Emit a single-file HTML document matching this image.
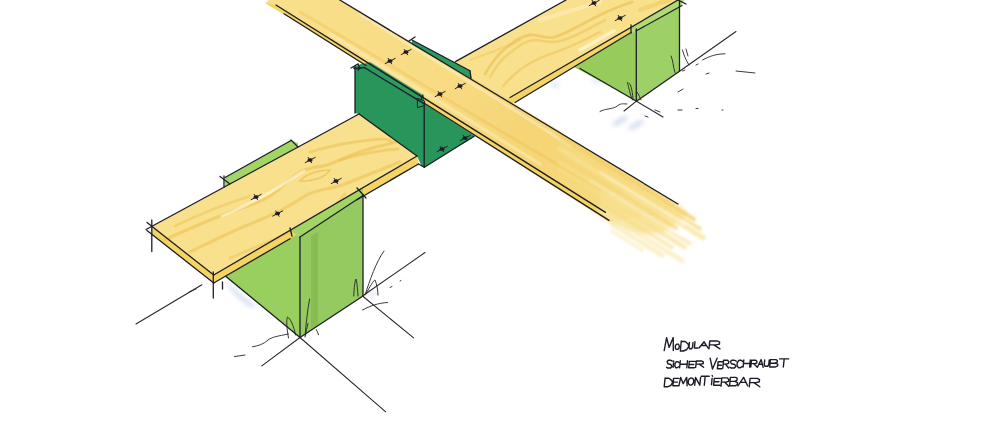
<!DOCTYPE html>
<html><head><meta charset="utf-8">
<style>
html,body{margin:0;padding:0;background:#fff;}
body{width:1000px;height:433px;overflow:hidden;font-family:"Liberation Sans",sans-serif;}
svg{display:block;}
</style></head>
<body>
<svg width="1000" height="433" viewBox="0 0 1000 433">
<defs>
  <linearGradient id="fadeG" gradientUnits="userSpaceOnUse" x1="562.3" y1="345.8" x2="609.2" y2="374.7">
    <stop offset="0" stop-color="#fff" stop-opacity="1"/>
    <stop offset="0.5" stop-color="#fff" stop-opacity="0.75"/>
    <stop offset="1" stop-color="#fff" stop-opacity="0"/>
  </linearGradient>
  <mask id="fadeM" maskUnits="userSpaceOnUse" x="0" y="0" width="1000" height="433">
    <rect width="1000" height="433" fill="url(#fadeG)"/>
  </mask>
  <linearGradient id="plankAG" gradientUnits="userSpaceOnUse" x1="213" y1="131" x2="596.4" y2="366.8">
    <stop offset="0" stop-color="#f9df8a"/>
    <stop offset="0.35" stop-color="#f8dc84"/>
    <stop offset="0.6" stop-color="#f5d575"/>
    <stop offset="0.8" stop-color="#f6d87c"/>
    <stop offset="0.92" stop-color="#f8e094"/>
    <stop offset="1" stop-color="#f9e6a8"/>
  </linearGradient>
  <filter id="soft2" x="-10%" y="-10%" width="120%" height="120%"><feGaussianBlur stdDeviation="0.7"/></filter>
  <filter id="soft" x="-10%" y="-10%" width="120%" height="120%"><feGaussianBlur stdDeviation="1.2"/></filter>
  <filter id="blur2" x="-20%" y="-20%" width="140%" height="140%"><feGaussianBlur stdDeviation="2"/></filter>
  
</defs>
<rect width="1000" height="433" fill="#ffffff"/>

<!-- ===== shadows ===== -->
<g fill="#d6def2" opacity="0.9" filter="url(#blur2)">
  <ellipse cx="620" cy="121" rx="9" ry="3.2" transform="rotate(-30 620 121)"/>
  <ellipse cx="636" cy="125" rx="9" ry="3.2" transform="rotate(-30 636 125)"/>
  <ellipse cx="598" cy="80" rx="8" ry="4" opacity="0.5"/>
  <ellipse cx="555" cy="85" rx="5" ry="3" opacity="0.7"/>
  <ellipse cx="372" cy="294" rx="8" ry="2.5" opacity="0.6"/>
  <path d="M226 281 C234 288 244 296 256 306 C254 309 250 308 244 303 C236 296 229 290 226 281 Z"/>
</g>
<!-- ===== right light-green block ===== -->
<polygon points="574,67 630,26 637,28 637,101.2" fill="#97cc5c"/>
<polygon points="636,29 679.5,4.5 679.5,71.3 636.5,101.2" fill="#9dd066"/>
<polygon points="629,28.5 678,0 684,0 681,6 637,31.5 632,33" fill="#b0da74"/>

<!-- ===== plank B right segment ===== -->
<polygon points="430,82 448,66 566,0 678,0 631,27.3 510,97.5 500,110" fill="#f9e08c"/>
<polygon points="500,103.3 631,27.3 631,32.5 505,108.3" fill="#f4d462"/>
<!-- grain plank B right -->
<g filter="url(#soft2)" fill="none" stroke-linecap="round">
  <path d="M485 74 C492 62 498 54 506 48 C514 42 520 36 530 35 C540 34 545 40 555 37 C570 32 585 22 600 15 C610 10 620 6 632 2" stroke="#e9bb4c" stroke-width="2.8" opacity="0.55"/>
  <path d="M490 77 C496 66 502 58 510 53 C518 47 524 41 534 40 C544 40 548 44 560 41 C575 37 590 28 605 20" stroke="#e9bb4c" stroke-width="2.5" opacity="0.45"/>
  <path d="M503 86 C510 78 516 72 524 67 C534 60 544 56 556 52 C570 47 585 40 600 32" stroke="#e9bb4c" stroke-width="2.5" opacity="0.45"/>
  <path d="M470 60 C490 52 505 48 520 40" stroke="#e9bb4c" stroke-width="2.1" opacity="0.35"/>
  <path d="M580 50 C592 44 602 37 614 31" stroke="#fff8e0" stroke-width="3.5" opacity="0.7"/>
  <path d="M540 20 C560 14 580 8 600 2" stroke="#fff3cc" stroke-width="4.2" opacity="0.45"/>
  <path d="M640 10 C650 6 660 3 670 0" stroke="#ebbe50" stroke-width="4.2" opacity="0.4"/>
</g>

<!-- ===== small back green strip ===== -->
<polygon points="225,177.5 291,140.5 298,143 298,147 225,188" fill="#a2d466"/>

<!-- ===== lower light-green block ===== -->
<polygon points="225.5,277 291,231 300,237 300,337.5" fill="#99cf5f"/>
<polygon points="300,237 363,195.5 363,296 300,337.5" fill="#94ca5f"/>
<polygon points="311,236 318,232 318,325.7 311,330.3" fill="#79ad44" opacity="0.45"/>

<!-- ===== plank B left segment ===== -->
<polygon points="152,226.5 359,114 417,156 213.75,275" fill="#f9e08c"/>
<polygon points="213.75,275 417,156 418.5,164 213.75,283" fill="#f4d462"/>
<polygon points="152,226.5 213.75,275 213.75,283 152,234.5" fill="#f4d462"/>
<!-- grain plank B left -->
<g filter="url(#soft2)" fill="none" stroke-linecap="round">
  <path d="M165 240 C185 230 205 222 225 214 C245 206 258 204 270 196 C282 188 290 178 300 172 C310 166 320 168 330 164 C345 158 360 150 380 146 C392 144 400 140 410 138" stroke="#ebbe50" stroke-width="3.1" opacity="0.55"/>
  <path d="M190 252 C210 242 235 230 255 222 C275 214 290 206 305 196 C318 188 330 190 345 184 C360 178 380 170 400 162" stroke="#ebbe50" stroke-width="3.1" opacity="0.5"/>
  <path d="M300 181 C306 174 318 170 330 170 C326 176 316 181 300 181 Z" stroke="#e6b748" stroke-width="1.7" opacity="0.55"/>
  <path d="M222 216 C235 211 246 205 256 200 C268 194 278 188 290 180 C296 176 300 173 304 171" stroke="#fffbea" stroke-width="2.8" opacity="0.6"/>
  <path d="M310 152 C330 146 350 142 370 140 C380 139 388 138 392 142" stroke="#ebbe50" stroke-width="2.8" opacity="0.5"/>
  <path d="M340 160 C360 154 380 150 398 149" stroke="#ebbe50" stroke-width="2.8" opacity="0.5"/>
  <path d="M175 226 C200 214 225 204 250 196" stroke="#ebbe50" stroke-width="2.8" opacity="0.45"/>
  <path d="M230 258 C260 246 290 232 315 220 C328 212 336 206 345 194" stroke="#ebbe50" stroke-width="2.8" opacity="0.45"/>
</g>
<!-- lower block top strip -->
<polygon points="290,230.4 363,187.7 363,195.5 300,237" fill="#a3d565"/>

<!-- ===== dark green block ===== -->
<polygon points="353,67 360,64.5 365,61.7 424,98.7 424,167 422,167 417,156 359,114 355,113 355,70" fill="#28955a"/>
<polygon points="424,98 476,130 476,136 424,167.3" fill="#28955a"/>

<!-- ===== plank A ===== -->
<polygon points="268.9,0 339.8,0 678,204 660,214 609,222 300,24 265,3" fill="url(#plankAG)"/>
<polygon points="276,5 300,21 605.5,212.4 609,220.4 300,24 265,3" fill="#f4d462"/>
<g fill="none" stroke-linecap="round">
  <path d="M300 12 C380 58 460 108 540 154 C570 172 600 190 640 210" stroke="#ebbe50" stroke-width="3" opacity="0.35"/>
  <path d="M360 14 C430 58 500 100 570 146" stroke="#fff3cc" stroke-width="3" opacity="0.45"/>
  <path d="M330 34 C400 78 470 120 540 164" stroke="#fff3cc" stroke-width="3.5" opacity="0.4"/>
  <path d="M400 36 C450 66 500 96 560 132" stroke="#ebbe50" stroke-width="2.5" opacity="0.3"/>
</g>
<polygon points="600,190 678,204 688,214 664,232 640,234 609,222 600,215" fill="#f8e296" filter="url(#blur2)" opacity="0.85"/>
<g filter="url(#soft)" stroke-linecap="round" fill="none">
  <line x1="560" y1="136.0" x2="694" y2="219.1" stroke="#f3d068" stroke-width="4" opacity="0.8"/>
  <line x1="560" y1="142.0" x2="700" y2="228.8" stroke="#f6da80" stroke-width="4" opacity="0.7"/>
  <line x1="560" y1="149.0" x2="703" y2="237.7" stroke="#f8e291" stroke-width="5" opacity="0.7"/>
  <line x1="560" y1="156.0" x2="676" y2="227.9" stroke="#f5d677" stroke-width="4" opacity="0.7"/>
  <line x1="560" y1="163.0" x2="690" y2="243.6" stroke="#f8e293" stroke-width="4" opacity="0.6"/>
  <line x1="560" y1="170.0" x2="684" y2="246.9" stroke="#f7dd88" stroke-width="5" opacity="0.6"/>
  <line x1="560" y1="178.0" x2="672" y2="247.4" stroke="#f6da80" stroke-width="4" opacity="0.55"/>
  <line x1="600" y1="209.8" x2="682" y2="260.6" stroke="#f9e7a5" stroke-width="5" opacity="0.55"/>
  <line x1="612" y1="224.2" x2="662" y2="255.2" stroke="#f8e39a" stroke-width="5" opacity="0.5"/>
  <line x1="612" y1="231.2" x2="642" y2="249.8" stroke="#f9e6a4" stroke-width="4" opacity="0.45"/>
  <line x1="600" y1="172" x2="686" y2="225" stroke="#ffffff" stroke-width="1.6" opacity="0.55"/>
  <line x1="590" y1="180" x2="680" y2="236" stroke="#ffffff" stroke-width="1.4" opacity="0.5"/>
</g>
<!-- green strip replacing plank thickness over dark block -->
<polygon points="361,64.5 370.4,62.3 424,95.8 424,103.6 364.2,67.5 356,68" fill="#2c9b5f"/>
<polygon points="417.4,98.3 424.6,101 424.6,105.5 417.4,107.6" fill="#2c9b5f" stroke="#1d1d28" stroke-width="1"/>
<path d="M419 95 L426 99.5 M423 94.5 L421 100" stroke="#1d1d28" stroke-width="1" fill="none"/>
<!-- dark block back strip -->
<polygon points="412,40 470,70.5 471.5,78.8 412,44.5" fill="#2c9b5f"/>

<!-- ===== outlines ===== -->
<g stroke="#1d1d28" stroke-width="1.3" fill="none" stroke-linecap="round">
  <!-- plank A -->
  <line x1="339.8" y1="0" x2="678" y2="204"/>
  <line x1="276" y1="5" x2="605.5" y2="212.4"/>
  <line x1="284" y1="13.8" x2="366" y2="65.5"/>
  <line x1="424" y1="103" x2="609" y2="220.4"/>
  <!-- plank B right -->
  <line x1="455.4" y1="61.6" x2="566" y2="0"/>
  <line x1="510" y1="97.5" x2="678" y2="0"/>
  <line x1="515" y1="102.5" x2="631" y2="32.5"/>
  <!-- right block -->
  <line x1="636.3" y1="29" x2="636.3" y2="101"/>
  <line x1="679.5" y1="1" x2="679.5" y2="71.3"/>
  <line x1="636" y1="31" x2="682" y2="5.5"/>
  <line x1="580" y1="68.5" x2="636.5" y2="101.2"/>
  <line x1="636.5" y1="101.2" x2="679.5" y2="71.3"/>
  <line x1="631" y1="25" x2="631" y2="33"/>
  <line x1="676" y1="-1" x2="686" y2="4"/>
  <!-- plank B left -->
  <line x1="146" y1="229.5" x2="359" y2="114"/>
  <line x1="359" y1="114" x2="417" y2="156"/>
  <line x1="213.75" y1="275" x2="417" y2="156"/>
  <line x1="213.75" y1="283" x2="290" y2="238.7"/>
  <line x1="357" y1="199.7" x2="418.5" y2="164"/>
  <line x1="147" y1="222.5" x2="213.75" y2="275"/>
  <line x1="147" y1="230.5" x2="213.75" y2="283"/>
  <line x1="151.8" y1="220" x2="151.8" y2="251.5"/>
  <line x1="213.3" y1="272" x2="213.3" y2="298"/>
  <line x1="222.5" y1="282" x2="222.5" y2="289"/>
  <line x1="290" y1="228" x2="292" y2="236"/>
  <line x1="357" y1="188" x2="366" y2="198"/>
  <!-- small back strip -->
  <line x1="225" y1="177.5" x2="291" y2="140.5"/>
  <line x1="224" y1="176" x2="224" y2="187"/>
  <line x1="220" y1="176.5" x2="229.6" y2="183.8"/>
  <line x1="291" y1="140" x2="298" y2="147"/>
  <!-- lower block -->
  <line x1="226" y1="276.5" x2="300" y2="337.5"/>
  <line x1="300" y1="237" x2="300" y2="337.5"/>
  <line x1="363" y1="195" x2="363" y2="296"/>
  <line x1="300" y1="337.5" x2="363" y2="296"/>
  <line x1="300" y1="237" x2="363" y2="195.5"/>
  <!-- dark block -->
  <line x1="355" y1="67" x2="355" y2="113"/>
  <line x1="424.2" y1="104" x2="424.2" y2="167.3"/>
  <line x1="418.5" y1="164" x2="424.4" y2="167.3"/>
  <line x1="424.4" y1="167.3" x2="473.6" y2="136.5"/>
  <path d="M354 68.5 L364.2,67.5 L424,103.6"/>
  <line x1="412" y1="40" x2="470" y2="70.8"/><line x1="470" y1="70.8" x2="471" y2="78"/>
  <line x1="409" y1="41" x2="415" y2="37"/>
  <path d="M351 68 L358 64 L360 68 L358 70"/>
</g>
<g stroke="#26262c" stroke-width="1.05" fill="none" stroke-linecap="round">
  <!-- ground lines -->
  <line x1="300" y1="337.5" x2="385.7" y2="411.8"/>
  <line x1="300" y1="337.5" x2="261.8" y2="365.9"/>
  <line x1="136" y1="324" x2="201.9" y2="284.8"/>
  <line x1="362.5" y1="296" x2="413.6" y2="337.9"/>
  <line x1="362.5" y1="296" x2="425" y2="252.5"/>
  <line x1="636.5" y1="101.2" x2="663" y2="117"/>
  <line x1="636.5" y1="101.2" x2="624" y2="111"/>
  <line x1="679.5" y1="71.3" x2="736" y2="31.5"/>
</g>

<!-- ===== screws ===== -->
<g transform="translate(310 160)"><path d="M-2.6 0.8 C-2.8 -1 -1 -2 0.6 -1.8 C2.2 -1.6 2.8 -0.4 2.4 0.8 C1.8 2 -1.6 2.2 -2.6 0.8 Z" fill="#1d1d28"/>
    <path d="M-4.8 2.6 L5.2 -2.6 M-1.8 -2.6 L1.6 2.8" stroke="#1d1d28" stroke-width="1" fill="none" stroke-linecap="round"/></g>
<g transform="translate(336 181)"><path d="M-2.6 0.8 C-2.8 -1 -1 -2 0.6 -1.8 C2.2 -1.6 2.8 -0.4 2.4 0.8 C1.8 2 -1.6 2.2 -2.6 0.8 Z" fill="#1d1d28"/>
    <path d="M-4.8 2.6 L5.2 -2.6 M-1.8 -2.6 L1.6 2.8" stroke="#1d1d28" stroke-width="1" fill="none" stroke-linecap="round"/></g>
<g transform="translate(256 197)"><path d="M-2.6 0.8 C-2.8 -1 -1 -2 0.6 -1.8 C2.2 -1.6 2.8 -0.4 2.4 0.8 C1.8 2 -1.6 2.2 -2.6 0.8 Z" fill="#1d1d28"/>
    <path d="M-4.8 2.6 L5.2 -2.6 M-1.8 -2.6 L1.6 2.8" stroke="#1d1d28" stroke-width="1" fill="none" stroke-linecap="round"/></g>
<g transform="translate(277.5 213.5)"><path d="M-2.6 0.8 C-2.8 -1 -1 -2 0.6 -1.8 C2.2 -1.6 2.8 -0.4 2.4 0.8 C1.8 2 -1.6 2.2 -2.6 0.8 Z" fill="#1d1d28"/>
    <path d="M-4.8 2.6 L5.2 -2.6 M-1.8 -2.6 L1.6 2.8" stroke="#1d1d28" stroke-width="1" fill="none" stroke-linecap="round"/></g>
<g transform="translate(406 52)"><path d="M-2.6 0.8 C-2.8 -1 -1 -2 0.6 -1.8 C2.2 -1.6 2.8 -0.4 2.4 0.8 C1.8 2 -1.6 2.2 -2.6 0.8 Z" fill="#1d1d28"/>
    <path d="M-4.8 2.6 L5.2 -2.6 M-1.8 -2.6 L1.6 2.8" stroke="#1d1d28" stroke-width="1" fill="none" stroke-linecap="round"/></g>
<g transform="translate(390 61)"><path d="M-2.6 0.8 C-2.8 -1 -1 -2 0.6 -1.8 C2.2 -1.6 2.8 -0.4 2.4 0.8 C1.8 2 -1.6 2.2 -2.6 0.8 Z" fill="#1d1d28"/>
    <path d="M-4.8 2.6 L5.2 -2.6 M-1.8 -2.6 L1.6 2.8" stroke="#1d1d28" stroke-width="1" fill="none" stroke-linecap="round"/></g>
<g transform="translate(440 94)"><path d="M-2.6 0.8 C-2.8 -1 -1 -2 0.6 -1.8 C2.2 -1.6 2.8 -0.4 2.4 0.8 C1.8 2 -1.6 2.2 -2.6 0.8 Z" fill="#1d1d28"/>
    <path d="M-4.8 2.6 L5.2 -2.6 M-1.8 -2.6 L1.6 2.8" stroke="#1d1d28" stroke-width="1" fill="none" stroke-linecap="round"/></g>
<g transform="translate(460 86)"><path d="M-2.6 0.8 C-2.8 -1 -1 -2 0.6 -1.8 C2.2 -1.6 2.8 -0.4 2.4 0.8 C1.8 2 -1.6 2.2 -2.6 0.8 Z" fill="#1d1d28"/>
    <path d="M-4.8 2.6 L5.2 -2.6 M-1.8 -2.6 L1.6 2.8" stroke="#1d1d28" stroke-width="1" fill="none" stroke-linecap="round"/></g>
<g transform="translate(594 3)"><path d="M-2.6 0.8 C-2.8 -1 -1 -2 0.6 -1.8 C2.2 -1.6 2.8 -0.4 2.4 0.8 C1.8 2 -1.6 2.2 -2.6 0.8 Z" fill="#1d1d28"/>
    <path d="M-4.8 2.6 L5.2 -2.6 M-1.8 -2.6 L1.6 2.8" stroke="#1d1d28" stroke-width="1" fill="none" stroke-linecap="round"/></g>
<g transform="translate(620 18)"><path d="M-2.6 0.8 C-2.8 -1 -1 -2 0.6 -1.8 C2.2 -1.6 2.8 -0.4 2.4 0.8 C1.8 2 -1.6 2.2 -2.6 0.8 Z" fill="#1d1d28"/>
    <path d="M-4.8 2.6 L5.2 -2.6 M-1.8 -2.6 L1.6 2.8" stroke="#1d1d28" stroke-width="1" fill="none" stroke-linecap="round"/></g>
<g transform="translate(442 149)"><path d="M-2.6 0.8 C-2.8 -1 -1 -2 0.6 -1.8 C2.2 -1.6 2.8 -0.4 2.4 0.8 C1.8 2 -1.6 2.2 -2.6 0.8 Z" fill="#1d1d28"/>
    <path d="M-4.8 2.6 L5.2 -2.6 M-1.8 -2.6 L1.6 2.8" stroke="#1d1d28" stroke-width="1" fill="none" stroke-linecap="round"/></g>
<g transform="translate(465 138)"><path d="M-2.6 0.8 C-2.8 -1 -1 -2 0.6 -1.8 C2.2 -1.6 2.8 -0.4 2.4 0.8 C1.8 2 -1.6 2.2 -2.6 0.8 Z" fill="#1d1d28"/>
    <path d="M-4.8 2.6 L5.2 -2.6 M-1.8 -2.6 L1.6 2.8" stroke="#1d1d28" stroke-width="1" fill="none" stroke-linecap="round"/></g>

<!-- ===== scribbles / grass ===== -->
<g stroke="#25252c" stroke-width="1" fill="none" stroke-linecap="round" opacity="0.9">
  <path d="M353.8 296 C354 288 355 280 356 279 C357 282 357.5 290 358 296"/>
  <path d="M365 295 C370 280 376 262 384 251"/>
  <path d="M366 294 C370 286 374 280 375 280 C377 284 378 292 378 295"/>
  <path d="M288.5 338 C287 330 286 320 287.5 317 C290 318 294 326 295.5 335"/>
  <path d="M305 337 C306 324 307.5 310 309.6 299 M305.5 336 C306 332 307 327 308 323.5"/>
  <path d="M316.3 329.5 C317 331 318 333 318.6 334.8"/>
  <path d="M252.5 346.8 C258 346 264 344 268 340 C272 337 278 336 288.5 334"/>
  <path d="M362.5 310 C370 306 378 303 387.5 302.5"/>
  <path d="M390 287.5 L392 286.5 M400 281 L401 280.5"/>
  <path d="M234.5 356.6 L245 355"/>
  <path d="M189 292 L196 289"/>
  <path d="M671 56 C673 60 673 66 675 72.5"/>
  <path d="M627.5 82.5 C629 88 630 95 632.5 100 M629 83 C631 84 632 90 633 98"/>
  <path d="M637.5 92.5 C639 95 640 98 641 100"/>
  <path d="M682.5 50 C684 56 686 60 689 65 M686 49 L688 56"/>
  <path d="M702.5 60 C710 56 716 54 725 53.75"/>
  <path d="M682.5 71 L685 70 M696 65 L698 64 M706 74 L709 73 M736 71 L755 73"/>
  <path d="M600 111.5 C606 108 612 110 618 105.5 C621 103 624 104 627 104"/>
  <path d="M678 92 L683 89 M678 110 L682 110 M696 108.5 L698 108.5 M722 110 L723 110"/>
  <path d="M655 110 L660 112 M645 116 L648 117"/>
</g>

<!-- ===== text ===== -->
<path d="M664.2 350.6 L666.6 337.6 L669.1 347.4 L673.2 337.6 L673.3 350.6 M679.1 347.6 L678.4 348.8 L677.5 349.4 L676.4 349.4 L675.6 348.6 L675.3 347.4 L675.4 345.9 L676.1 344.7 L677.1 344.1 L678.1 344.1 L678.9 344.9 L679.3 346.1 L679.1 347.6 L678.4 348.8 M681.3 341.0 L680.3 351.0 M681.3 341.2 L685.2 341.5 L688.1 344.0 L688.7 346.5 L686.8 349.5 L683.5 351.0 L680.3 351.0 M689.4 342.5 L689.0 346.9 L689.5 348.8 L691.7 348.8 L692.6 346.9 L693.0 342.5 M695.0 341.8 L694.4 348.0 L697.8 348.0 M699.0 348.0 L704.1 341.8 L708.0 348.0 M701.2 345.5 L706.4 345.5 M709.0 348.8 L709.8 341.0 L717.5 341.0 L719.6 342.2 L719.4 344.1 L716.0 344.9 L709.4 344.9 M713.8 344.9 L720.0 348.8 M672.3 361.1 L670.8 360.3 L668.3 360.3 L667.1 361.8 L667.9 363.8 L670.9 364.5 L671.8 366.5 L670.6 368.0 L667.5 368.0 L666.6 367.2 M673.5 362.9 L673.1 367.3 M673.6 361.0 L673.8 361.5 M678.9 362.6 L677.9 361.7 L676.3 361.7 L675.0 363.5 L674.8 365.9 L675.7 367.7 L677.3 367.7 L678.5 366.8 M680.3 360.7 L679.6 367.7 M687.5 360.7 L686.8 367.7 M680.0 364.2 L687.1 364.2 M695.1 361.4 L689.3 361.4 L688.7 367.7 L694.5 367.7 M689.0 364.5 L693.7 364.5 M695.7 367.3 L696.3 361.0 L701.9 361.0 L703.3 361.9 L703.2 363.5 L700.8 364.1 L696.0 364.1 M699.2 364.1 L703.6 367.3 M710.1 358.2 L712.5 369.0 L717.1 358.2 M722.7 361.7 L718.1 361.7 L717.4 368.7 L722.0 368.7 M717.8 365.2 L721.4 365.2 M722.8 368.0 L723.6 360.3 L727.6 360.3 L728.7 361.5 L728.5 363.4 L726.7 364.1 L723.2 364.1 M725.5 364.1 L728.6 368.0 M736.3 361.1 L734.6 360.3 L731.7 360.3 L730.4 361.8 L731.4 363.8 L734.8 364.5 L735.8 366.5 L734.4 368.0 L731.0 368.0 L729.9 367.2 M742.6 361.4 L741.2 360.3 L739.1 360.3 L737.3 362.5 L737.0 365.5 L738.4 367.7 L740.4 367.7 L742.1 366.6 M743.8 360.0 L743.1 367.0 M750.3 360.0 L749.6 367.0 M743.5 363.5 L750.0 363.5 M750.8 367.0 L751.5 360.3 L755.8 360.3 L756.9 361.3 L756.8 363.0 L754.9 363.6 L751.1 363.6 M753.6 363.6 L757.0 367.0 M757.4 367.3 L761.1 359.6 L763.2 367.3 M759.0 364.2 L762.3 364.2 M764.7 360.0 L764.3 364.4 L765.0 366.3 L767.7 366.3 L768.8 364.4 L769.2 360.0 M770.4 359.6 L769.7 367.0 M770.4 359.6 L775.9 359.6 L777.4 360.5 L777.2 362.2 L774.8 363.2 L770.1 363.2 M774.8 363.2 L777.8 364.2 L777.6 365.9 L775.5 367.0 L769.7 367.0 M779.6 358.9 L788.7 358.9 M784.2 358.9 L783.3 367.0 M665.1 377.9 L664.2 386.8 M665.1 378.1 L669.0 378.3 L671.9 380.6 L672.5 382.8 L670.7 385.5 L667.4 386.8 L664.2 386.8 M678.9 378.4 L673.6 378.4 L672.9 385.8 L678.2 385.8 M673.3 382.1 L677.5 382.1 M678.9 385.8 L680.7 377.4 L683.2 383.7 L686.7 377.4 L687.1 385.8 M693.5 382.6 L692.6 384.2 L691.2 385.1 L689.8 385.0 L688.7 384.0 L688.2 382.4 L688.4 380.5 L689.3 378.9 L690.7 378.0 L692.1 378.1 L693.3 379.1 L693.8 380.7 L693.5 382.6 L692.6 384.2 M694.7 385.2 L695.5 377.4 L699.8 385.2 L700.6 377.4 M701.3 376.3 L709.2 376.3 M705.2 376.3 L704.3 385.2 M712.1 378.3 L711.5 384.7 M712.2 375.5 L712.5 376.2 M720.5 378.4 L714.3 378.4 L713.6 385.2 L719.8 385.2 M713.9 381.8 L718.9 381.8 M721.0 386.3 L721.8 377.9 L727.3 377.9 L728.7 379.2 L728.5 381.3 L726.1 382.1 L721.4 382.1 M724.5 382.1 L728.8 386.3 M730.4 377.4 L729.6 385.8 M730.4 377.4 L735.8 377.4 L737.2 378.4 L737.0 380.3 L734.6 381.4 L730.0 381.4 M734.6 381.4 L737.5 382.6 L737.3 384.5 L735.3 385.8 L729.6 385.8 M737.9 385.8 L743.6 377.4 L747.6 385.8 M740.4 382.4 L746.0 382.4 M749.3 386.8 L750.1 378.4 L757.5 378.4 L759.5 379.7 L759.3 381.8 L756.0 382.6 L749.7 382.6 M753.9 382.6 L759.8 386.8" stroke="#1d1d28" stroke-width="1.4" fill="none" stroke-linecap="round" stroke-linejoin="round"/>
</svg>
</body></html>
